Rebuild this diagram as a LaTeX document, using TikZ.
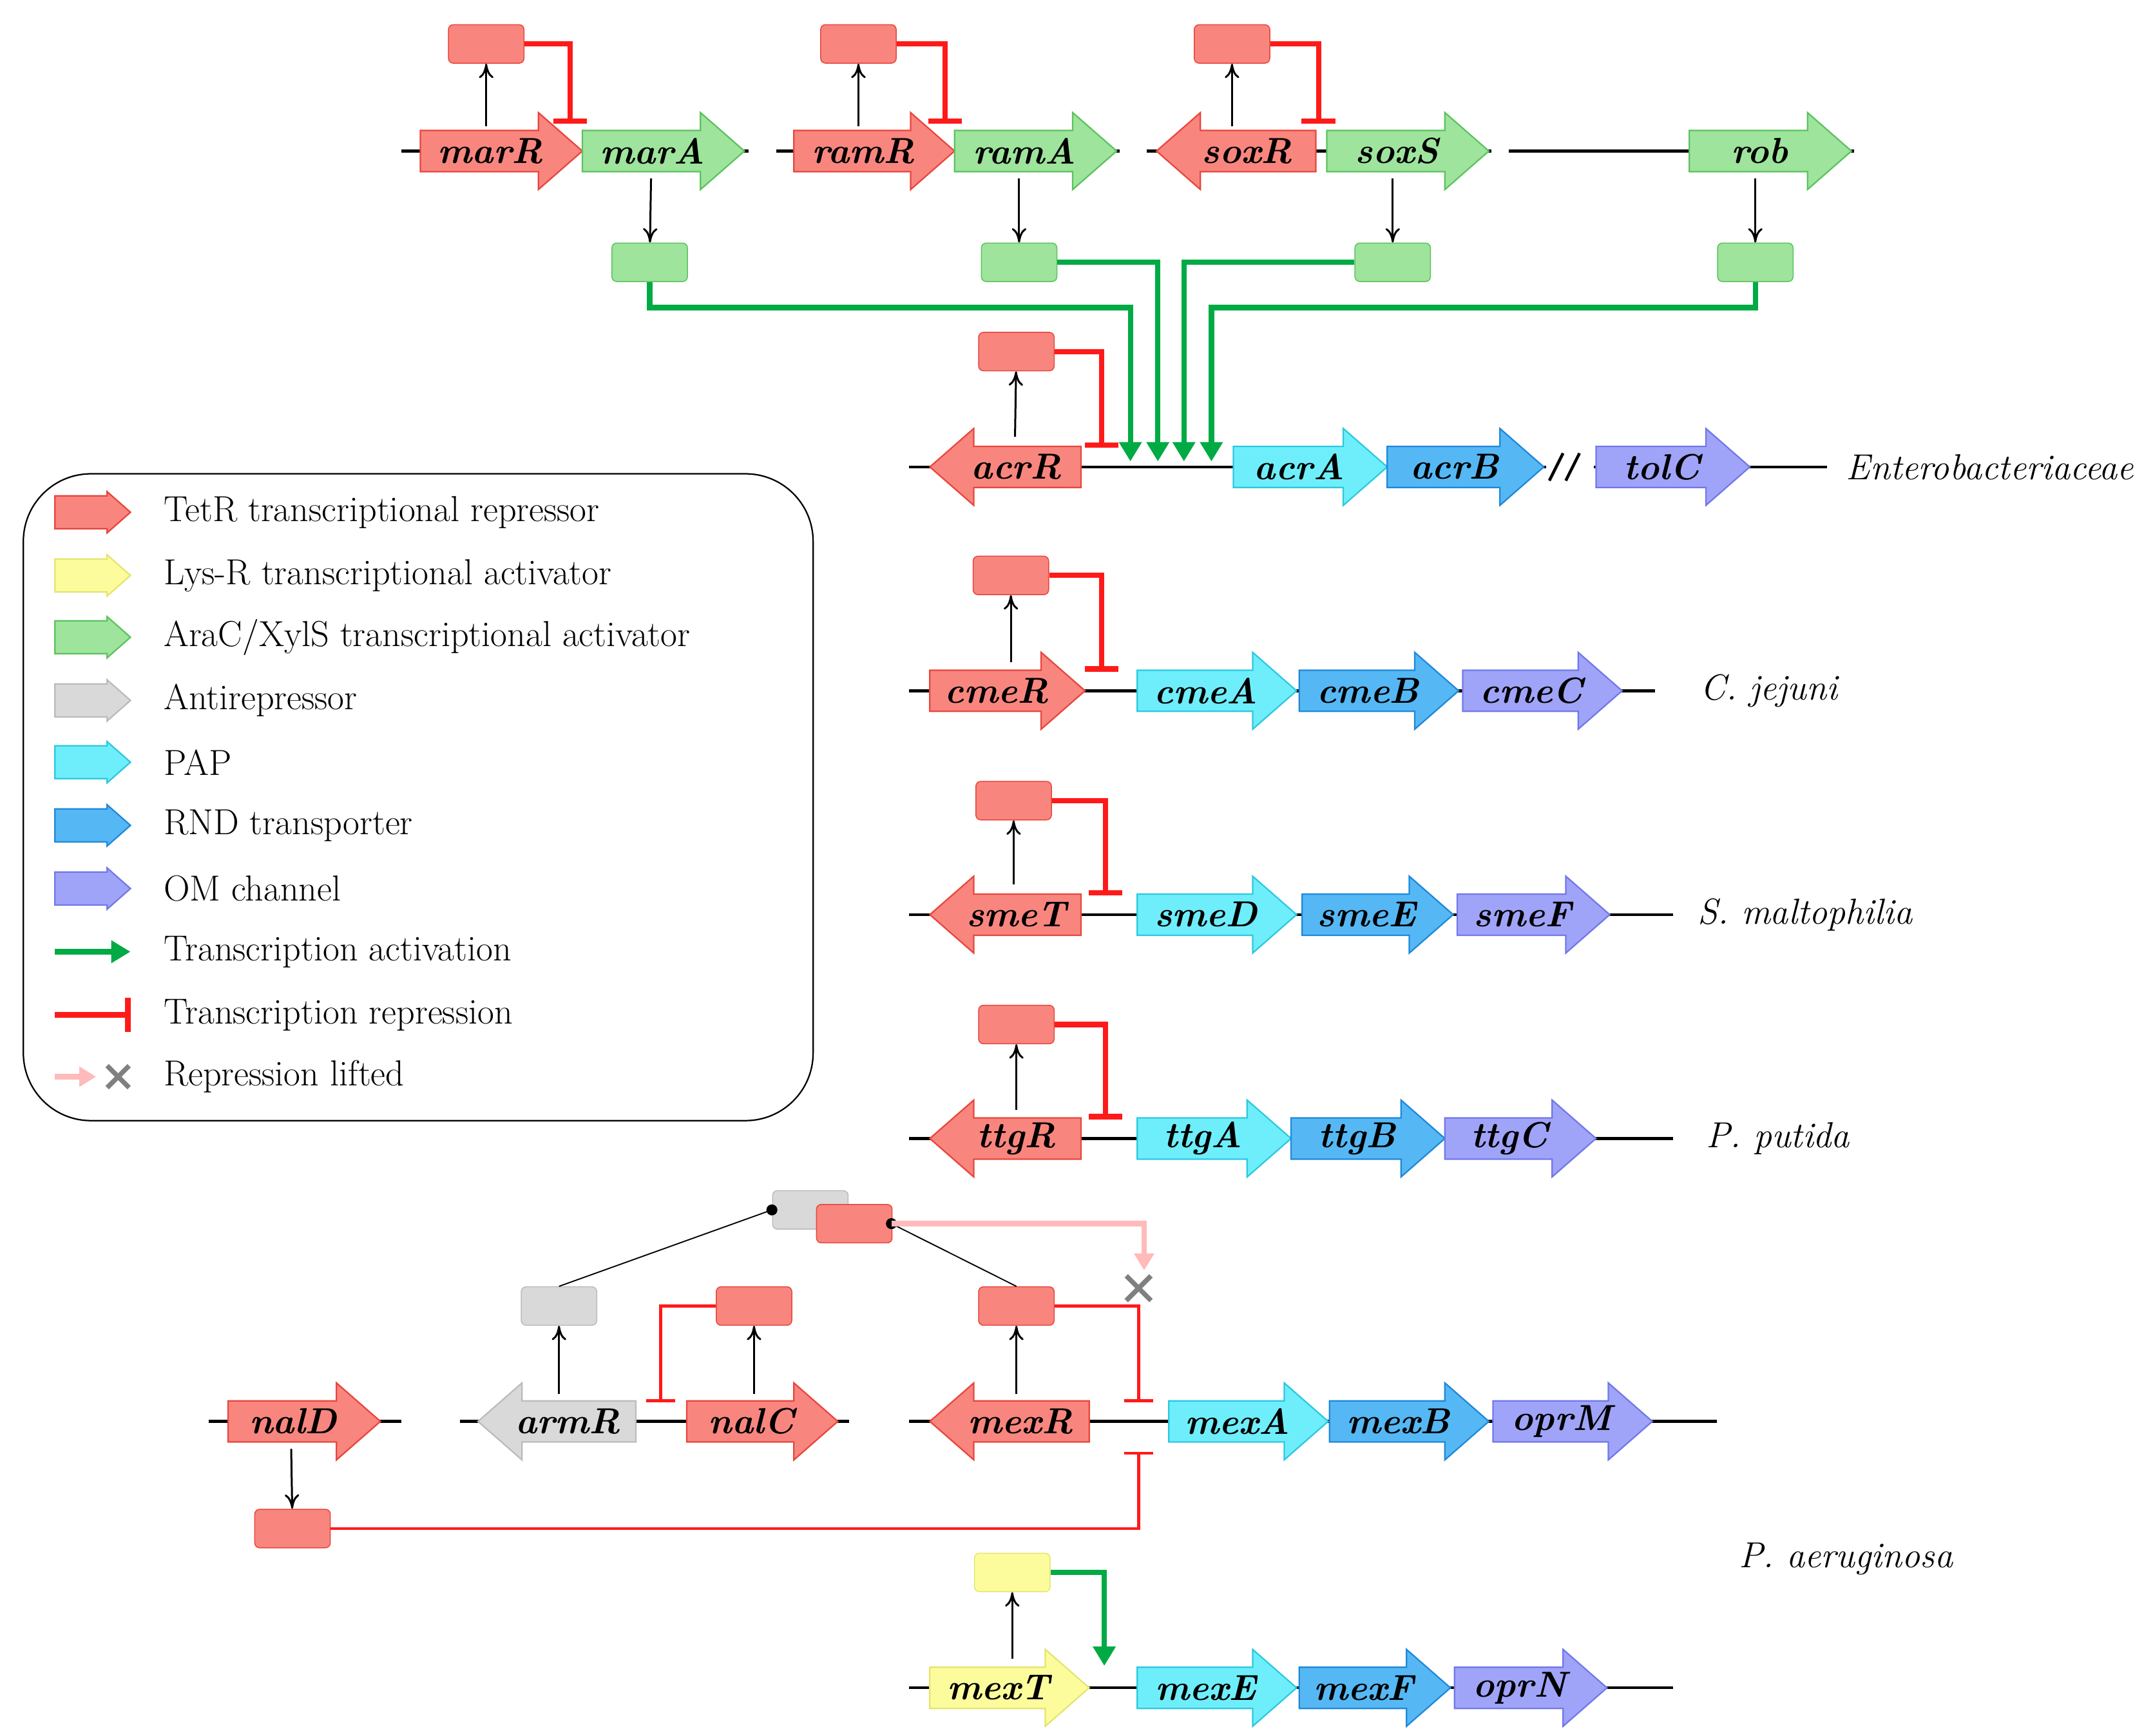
\documentclass[tikz,border=0pt]{standalone}
\usetikzlibrary{arrows.meta}
\begin{document}
\definecolor{cR}{HTML}{F8867E}\definecolor{bR}{HTML}{E8453C}
\definecolor{cG}{HTML}{9EE49C}\definecolor{bG}{HTML}{5CC25E}
\definecolor{cC}{HTML}{6EEEFA}\definecolor{bC}{HTML}{2CC8E0}
\definecolor{cB}{HTML}{55B8F5}\definecolor{bB}{HTML}{1E88D8}
\definecolor{cP}{HTML}{9FA4F8}\definecolor{bP}{HTML}{7078E8}
\definecolor{cY}{HTML}{FCFC9C}\definecolor{bY}{HTML}{E4E470}
\definecolor{cE}{HTML}{D9D9D9}\definecolor{bE}{HTML}{BBBBBB}
\definecolor{act}{HTML}{00AA44}\definecolor{rep}{HTML}{FF1A1A}
\tikzset{
 R/.style={fill=cR,draw=bR},G/.style={fill=cG,draw=bG},C/.style={fill=cC,draw=bC},
 B/.style={fill=cB,draw=bB},P/.style={fill=cP,draw=bP},Y/.style={fill=cY,draw=bY},E/.style={fill=cE,draw=bE},
 lbl/.style={font=\fontsize{15}{18}\selectfont\bfseries\itshape,inner sep=0pt},
 box/.style={minimum width=1.1cm,minimum height=0.56cm,rounded corners=2pt,inner sep=0pt},
 up/.style={-{To[length=6pt,width=6pt]},line width=0.8pt},
 repr/.style={draw=rep,line width=2.2pt,-{Bar[width=14pt]}},
 reprt/.style={draw=rep,line width=1.2pt,-{Bar[width=12pt]}},
 actv/.style={draw=act,line width=2.2pt,-{Triangle[length=8pt,width=9pt]}},
 dna/.style={line width=1.2pt},
 sp/.style={font=\fontsize{15}{18}\selectfont\itshape,anchor=west},
 leg/.style={font=\fontsize{15}{18}\selectfont,anchor=west},
}
\newcommand\geneR[6]{\draw[#4,line width=0.6pt] (#1,#3+15) -- (#2-32,#3+15) -- (#2-32,#3+28) -- (#2,#3) -- (#2-32,#3-28) -- (#2-32,#3-15) -- (#1,#3-15) -- cycle;
 \node[lbl] (#6) at ({(#1+#2)/2-8},#3) {#5};}
\newcommand\geneL[6]{\draw[#4,line width=0.6pt] (#2,#3+15) -- (#1+32,#3+15) -- (#1+32,#3+28) -- (#1,#3) -- (#1+32,#3-28) -- (#1+32,#3-15) -- (#2,#3-15) -- cycle;
 \node[lbl] (#6) at ({(#1+#2)/2+8},#3) {#5};}
\newcommand\legA[2]{\draw[#2,line width=0.6pt] (40,#1+12) -- (78,#1+12) -- (78,#1+15) -- (95,#1) -- (78,#1-15) -- (78,#1-12) -- (40,#1-12) -- cycle;}
\begin{tikzpicture}[x=0.02cm,y=0.02cm]
\useasboundingbox (0,0) rectangle (1561,-1264);
% row 1
\draw[dna] (292,-110) -- (545,-110);
\draw[dna] (565,-110) -- (815,-110);
\draw[dna] (835,-110) -- (1350,-110);
\geneR{306}{424}{-110}{R}{marR}{marR}
\geneR{424}{542}{-110}{G}{marA}{marA}
\geneR{578}{695}{-110}{R}{ramR}{ramR}
\geneR{695}{813}{-110}{G}{ramA}{ramA}
\geneL{842}{958}{-110}{R}{soxR}{soxR}
\geneR{966}{1084}{-110}{G}{soxS}{soxS}
\draw[fill=white,draw=white] (1086,-80) rectangle (1098,-140);
\geneR{1230}{1348}{-110}{G}{rob}{rob}
\node[box,R] (bmarR) at (354,-32) {};
\node[box,R] (bramR) at (625,-32) {};
\node[box,R] (bsoxR) at (897,-32) {};
\coordinate (tmarR) at (354,-92); \coordinate (tramR) at (625,-92); \coordinate (tsoxR) at (897,-92);
\draw[up] (tmarR) -- (bmarR);\draw[up] (tramR) -- (bramR);\draw[up] (tsoxR) -- (bsoxR);
\coordinate (pmarA) at (415,-90);\coordinate (pramA) at (688,-90);\coordinate (psoxS) at (960,-90);
\draw[repr] (bmarR.east) -| (pmarA);
\draw[repr] (bramR.east) -| (pramA);
\draw[repr] (bsoxR.east) -| (psoxS);
\node[box,G] (bmarA) at (473,-191) {};
\node[box,G] (bramA) at (742,-191) {};
\node[box,G] (bsoxS) at (1014,-191) {};
\node[box,G] (brob) at (1278,-191) {};
\foreach \x/\n in {474/bmarA,742/bramA,1014/bsoxS,1278/brob}{\draw[up] (\x,-130) -- (\n);}
% acr
\draw[dna] (662,-340) -- (1330,-340);
\draw[fill=white,draw=white] (1126,-330) rectangle (1160,-350);
\draw[dna] (1128,-350) -- (1138,-330); \draw[dna] (1140,-350) -- (1150,-330);
\geneL{677}{787}{-340}{R}{acrR}{acrR}
\geneR{898}{1010}{-340}{C}{acrA}{acrA}
\geneR{1010}{1124}{-340}{B}{acrB}{acrB}
\geneR{1162}{1274}{-340}{P}{tolC}{tolC}
\node[sp] (ent) at (1338,-340) {Enterobacteriaceae};
\coordinate (p1) at (823,-336);\coordinate (p2) at (843,-336);\coordinate (p3) at (862,-336);\coordinate (p4) at (882,-336);
\draw[actv] (bmarA.south) -- (473,-224) -| (p1);
\draw[actv] (bramA.east) -| (p2);
\draw[actv] (bsoxS.west) -| (p3);
\draw[actv] (brob.south) -- (1278,-224) -| (p4);
\node[box,R] (bacrR) at (740,-256) {};
\draw[up] (739,-318) -- (bacrR);
\draw[repr] (bacrR.east) -| (802,-326);
% cme
\draw[dna] (662,-503) -- (1205,-503);
\geneR{677}{790}{-503}{R}{cmeR}{cmeR}
\geneR{828}{944}{-503}{C}{cmeA}{cmeA}
\geneR{946}{1062}{-503}{B}{cmeB}{cmeB}
\geneR{1065}{1181}{-503}{P}{cmeC}{cmeC}
\node[sp] (cj) at (1232,-503) {C. jejuni};
\node[box,R] (bcmeR) at (736,-419) {};
\draw[up] (736,-482) -- (bcmeR);
\draw[repr] (bcmeR.east) -| (802,-489);
% sme
\draw[dna] (662,-666) -- (1218,-666);
\geneL{677}{787}{-666}{R}{smeT}{smeT}
\geneR{828}{944}{-666}{C}{smeD}{smeD}
\geneR{948}{1058}{-666}{B}{smeE}{smeE}
\geneR{1061}{1172}{-666}{P}{smeF}{smeF}
\node[sp] (sm) at (1230,-666) {S. maltophilia};
\node[box,R] (bsmeT) at (738,-583) {};
\draw[up] (738,-644) -- (bsmeT);
\draw[repr] (bsmeT.east) -| (805,-652);
% ttg
\draw[dna] (662,-829) -- (1218,-829);
\geneL{677}{787}{-829}{R}{ttgR}{ttgR}
\geneR{828}{940}{-829}{C}{ttgA}{ttgA}
\geneR{940}{1052}{-829}{B}{ttgB}{ttgB}
\geneR{1052}{1162}{-829}{P}{ttgC}{ttgC}
\node[sp] (pp) at (1236,-829) {P. putida};
\node[box,R] (bttgR) at (740,-746) {};
\draw[up] (740,-808) -- (bttgR);
\draw[repr] (bttgR.east) -| (805,-815);
% P. aeruginosa
\draw[dna] (152,-1035) -- (292,-1035);
\draw[dna] (335,-1035) -- (618,-1035);
\draw[dna] (662,-1035) -- (1250,-1035);
\geneR{166}{277}{-1035}{R}{nalD}{nalD}
\geneL{348}{463}{-1035}{E}{armR}{armR}
\geneR{500}{610}{-1035}{R}{nalC}{nalC}
\geneL{677}{793}{-1035}{R}{mexR}{mexR}
\geneR{851}{967}{-1035}{C}{mexA}{mexA}
\geneR{968}{1084}{-1035}{B}{mexB}{mexB}
\geneR{1087}{1203}{-1035}{P}{oprM}{oprM}
\node[sp] (pa) at (1260,-1135) {P. aeruginosa};
\node[box,E] (barmR) at (407,-951) {};
\node[box,R] (bnalC) at (549,-951) {};
\node[box,R] (bmexR) at (740,-951) {};
\node[box,R] (bnalD) at (213,-1113) {};
\draw[up] (407,-1015) -- (barmR);
\draw[up] (549,-1015) -- (bnalC);
\draw[up] (740,-1015) -- (bmexR);
\draw[up] (212,-1055) -- (bnalD);
\draw[reprt] (bnalC.west) -| (481,-1021);
\draw[reprt] (bmexR.east) -| (829,-1021);
\draw[reprt] (bnalD.east) -| (829,-1057);
\node[box,E] (cx1) at (590,-881) {};
\node[box,R] (cx2) at (622,-891) {};
\fill (562,-881) coordinate (d1) circle (4);
\fill (649,-891) coordinate (d2) circle (4);
\draw[line width=0.5pt] (d1) -- (barmR.north);
\draw[line width=0.5pt] (d2) -- (bmexR.north);
\coordinate (xm) at (829,-938);
\draw[draw=rep!30,line width=2.2pt,-{Triangle[length=7pt,width=8pt]}] (d2) -| (833,-925);
\draw[gray,line width=2pt] (xm) +(-9,-9) -- +(9,9) (xm) +(-9,9) -- +(9,-9);
% mexT
\draw[dna] (662,-1229) -- (1218,-1229);
\geneR{677}{793}{-1229}{Y}{mexT}{mexT}
\geneR{828}{944}{-1229}{C}{mexE}{mexE}
\geneR{946}{1056}{-1229}{B}{mexF}{mexF}
\geneR{1059}{1170}{-1229}{P}{oprN}{oprN}
\node[box,Y] (bmexT) at (737,-1145) {};
\draw[up] (737,-1208) -- (bmexT);
\draw[actv] (bmexT.east) -| (804,-1213);
% legend
\draw[line width=0.6pt,rounded corners=28pt] (17,-345) rectangle (592,-816);
\legA{-373}{R}\node[leg] (l1) at (113,-373) {TetR transcriptional repressor};
\legA{-419}{Y}\node[leg] (l2) at (113,-419) {Lys-R transcriptional activator};
\legA{-464}{G}\node[leg] (l3) at (113,-464) {AraC/XylS transcriptional activator};
\legA{-510}{E}\node[leg] (l4) at (113,-510) {Antirepressor};
\legA{-555}{C}\node[leg] (l5) at (113,-555) {PAP};
\legA{-601}{B}\node[leg] (l6) at (113,-601) {RND transporter};
\legA{-647}{P}\node[leg] (l7) at (113,-647) {OM channel};
\draw[actv] (40,-693) -- (95,-693);\node[leg] (l8) at (113,-693) {Transcription activation};
\draw[repr] (40,-739) -- (95,-739);\node[leg] (l9) at (113,-739) {Transcription repression};
\draw[draw=rep!30,line width=2.2pt,-{Triangle[length=7pt,width=8pt]}] (40,-784) -- (70,-784);
\draw[gray,line width=2pt] (78,-776) -- (94,-792) (78,-792) -- (94,-776);
\node[leg] (l10) at (113,-784) {Repression lifted};
\end{tikzpicture}
\end{document}
